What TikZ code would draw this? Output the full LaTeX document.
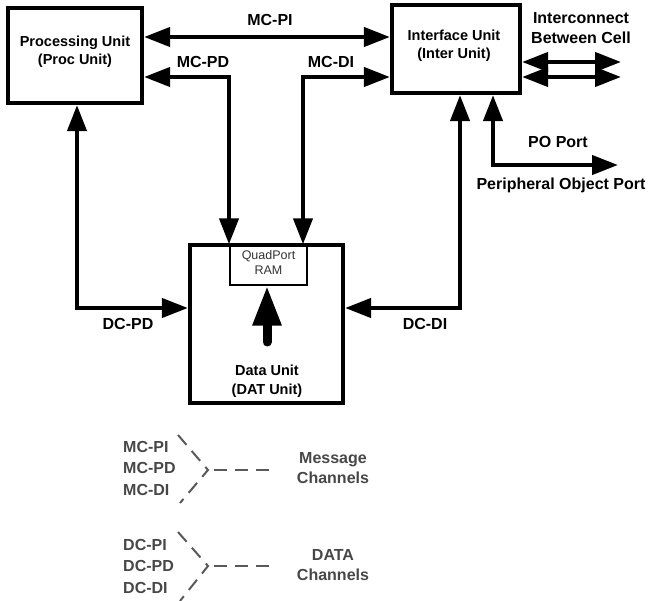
\documentclass[tikz,border=0pt]{standalone}
\usepackage{fontspec}
\setmainfont{Liberation Sans}
\usetikzlibrary{arrows.meta}
\begin{document}
\begin{tikzpicture}[x=1pt,y=-1pt,
  unitbox/.style={draw, line width=4.2pt, inner sep=0pt, rectangle},
  quadbox/.style={draw, line width=1.4pt, inner sep=0pt, rectangle},
  boxtext/.style={font=\bfseries\fontsize{14.5}{18.5}\selectfont, align=center, inner sep=0pt},
  quadtext/.style={font=\fontsize{12.5}{15}\selectfont, align=center, inner sep=0pt, text=black!80},
  lbl/.style={font=\bfseries\fontsize{16}{20}\selectfont, align=center, inner sep=0pt},
  legend/.style={font=\bfseries\fontsize{16}{20}\selectfont, align=center, inner sep=0pt, text=black!72},
  conn/.style={line width=4.2pt, arrows={Triangle[length=26pt,width=19pt]-Triangle[length=26pt,width=19pt]}},
  bigarrow/.style={line width=9pt, line cap=round, -{Triangle[length=40pt,width=27pt]}},
  bracket/.style={line width=2pt, draw=black!65, dash pattern=on 13pt off 8pt}]
\useasboundingbox (0,0) rectangle (652,601);

% units
\node[unitbox, minimum width=134pt, minimum height=95pt] (proc) at (75,55.5) {};
\node[boxtext] (proctext) at (75,52) {Processing Unit\\(Proc Unit)};
\node[unitbox, minimum width=128pt, minimum height=88pt] (inter) at (456,49) {};
\node[boxtext] (intertext) at (454,46) {Interface Unit\\(Inter Unit)};
\node[unitbox, minimum width=153pt, minimum height=158pt] (data) at (266.5,324) {};
\node[boxtext] (datatext) at (267,381) {Data Unit\\(DAT Unit)};
\node[quadbox, minimum width=77pt, minimum height=40pt] (quad) at (268.5,265) {};
\node[quadtext] (quadtext) at (268.5,262.5) {QuadPort\\RAM};

% helper coordinates
\coordinate (ypi) at (0,37);
\coordinate (ypd) at (0,77);
\coordinate (pdbend) at (229,77);
\coordinate (dibend) at (303,77);
\coordinate (lbend) at (77,308);
\coordinate (rbend) at (460,308);
\coordinate (pobend) at (493,165);
\coordinate (poend) at (618,165);
\coordinate (icA) at (621,62);
\coordinate (icB) at (621,77);
\coordinate (dtail) at (267,342);

% connectors
\draw[conn] (proc.east |- ypi) -- (inter.west |- ypi);
\draw[conn] (proc.east |- ypd) -- (pdbend) -- (pdbend |- quad.north);
\draw[conn] (inter.west |- ypd) -- (dibend) -- (dibend |- quad.north);
\draw[conn] (proc.south -| lbend) -- (lbend) -- (lbend -| data.west);
\draw[conn] (data.east |- rbend) -- (rbend) -- (rbend |- inter.south);
\draw[conn] (pobend |- inter.south) -- (pobend) -- (poend);
\draw[conn] (inter.east |- icA) -- (icA);
\draw[conn] (inter.east |- icB) -- (icB);
\draw[bigarrow] (dtail) -- (dtail |- quad.south);

% labels
\node[lbl] (lmcpi) at (270,20) {MC-PI};
\node[lbl] (lmcpd) at (203,62) {MC-PD};
\node[lbl] (lmcdi) at (331,62) {MC-DI};
\node[lbl] (ldcpd) at (128,324) {DC-PD};
\node[lbl] (ldcdi) at (425,324) {DC-DI};
\node[lbl] (lic) at (581,28.5) {Interconnect\\Between Cell};
\node[lbl] (lpo) at (558,142) {PO Port};
\node[lbl] (lpop) at (561,185) {Peripheral Object Port};

% legend
\node[legend, anchor=west] (gmcpi) at (123,447) {MC-PI};
\node[legend, anchor=west] (gmcpd) at (123,468) {MC-PD};
\node[legend, anchor=west] (gmcdi) at (123,490) {MC-DI};
\node[legend] (gmsg) at (333,468) {Message\\Channels};
\node[legend, anchor=west] (gdcpi) at (123,545) {DC-PI};
\node[legend, anchor=west] (gdcpd) at (123,566) {DC-PD};
\node[legend, anchor=west] (gdcdi) at (123,588) {DC-DI};
\node[legend] (gdata) at (333,565) {DATA\\Channels};

\coordinate (mtop) at (178,435);
\coordinate (mapex) at (208,470);
\coordinate (mbot) at (180,503);
\coordinate (mdash0) at (214,470);
\coordinate (mdash1) at (272,470);
\draw[bracket] (mtop) -- (mapex) -- (mbot);
\draw[bracket] (mdash0) -- (mdash1);

\coordinate (dtop) at (178,532);
\coordinate (dapex) at (208,566);
\coordinate (dbot) at (180,601);
\coordinate (ddash0) at (214,566);
\coordinate (ddash1) at (272,566);
\draw[bracket] (dtop) -- (dapex) -- (dbot);
\draw[bracket] (ddash0) -- (ddash1);
\end{tikzpicture}
\end{document}
